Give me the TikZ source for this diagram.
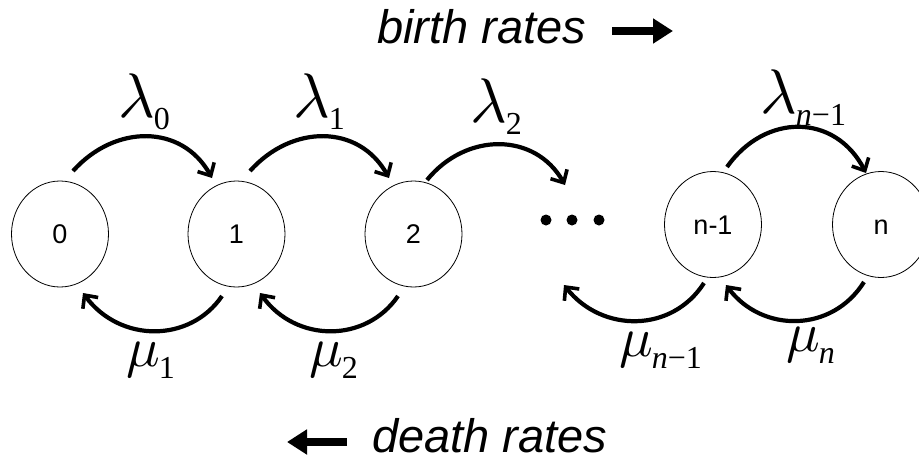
\documentclass[tikz,border=0pt]{standalone}
\usepackage{graphicx}
\usepackage{fontspec}
\setmainfont{Liberation Serif}
\setsansfont{Liberation Sans}
\usetikzlibrary{shapes.geometric,arrows.meta}
\newcommand\mysub[1]{\kern-1pt\raisebox{-12pt}{\fontsize{32}{32}\selectfont #1}}
\newcommand\biglam{\scalebox{6.3}{\fontsize{10}{12}\selectfont$\lambda$}}
\newcommand\bigmu{\scalebox{5.6}{\fontsize{10}{12}\selectfont$\mu$}}
\begin{document}
\begin{tikzpicture}[x=1pt,y=-1pt,
 state/.style={ellipse,draw,line width=0.8pt,minimum width=97pt,minimum height=106pt,inner sep=0pt,text height=19pt,text depth=0pt,font=\sffamily\fontsize{27}{27}\selectfont},
 rate/.style={line width=4.2pt,-{Straight Barb[length=10pt,width=19pt,line width=3.6pt]}},
 lbl/.style={inner sep=0pt,anchor=base west,font=\fontsize{32}{32}\selectfont},
 big/.style={line width=8pt,-{Triangle[length=20pt,width=24pt]}},
 dotnode/.style={circle,fill,inner sep=0pt,minimum size=11pt},
 titlelbl/.style={inner sep=0pt,anchor=base west,font=\sffamily\itshape\fontsize{47}{47}\selectfont}]
\useasboundingbox (0,0) rectangle (919,466);

% states
\node[state] (s0) at (60,234) {0};
\node[state] (s1) at (236.5,234) {1};
\node[state] (s2) at (413.5,234) {2};
\node[state] (sn1) at (713,224.5) {n-1};
\node[state] (sn) at (881,224.5) {n};

% dots
\node[dotnode] (d1) at (546,220) {};
\node[dotnode] (d2) at (572,220) {};
\node[dotnode] (d3) at (599,220) {};

% arrow end points
\coordinate (l0s) at (73,171);  \coordinate (l0e) at (212,178);
\coordinate (l1s) at (250,171); \coordinate (l1e) at (389,178);
\coordinate (l2s) at (427,180); \coordinate (l2e) at (565,185);
\coordinate (lns) at (727,167); \coordinate (lne) at (866,173);
\coordinate (m1s) at (222,296); \coordinate (m1e) at (83,293);
\coordinate (m2s) at (398,296); \coordinate (m2e) at (260,293);
\coordinate (mn1s) at (704,283); \coordinate (mn1e) at (564,285);
\coordinate (mns) at (864,282); \coordinate (mne) at (726,285);

% birth arcs
\draw[rate] (l0s) .. controls (115,124) and (182,124) .. (l0e);
\draw[rate] (l1s) .. controls (292,124) and (359,124) .. (l1e);
\draw[rate] (l2s) .. controls (466,132) and (535,132) .. (l2e);
\draw[rate] (lns) .. controls (765,113) and (835,113) .. (lne);

% death arcs
\draw[rate] (m1s) .. controls (190,343) and (120,343) .. (m1e);
\draw[rate] (m2s) .. controls (366,343) and (296,343) .. (m2e);
\draw[rate] (mn1s) .. controls (672,333) and (602,333) .. (mn1e);
\draw[rate] (mns) .. controls (832,333) and (762,333) .. (mne);

% labels
\node[lbl] (ll0) at (118,117) {\biglam\mysub{0}};
\node[lbl] (ll1) at (293,117) {\biglam\mysub{1}};
\node[lbl] (ll2) at (470,122) {\biglam\mysub{2}};
\node[lbl] (lln) at (760,113) {\biglam\mysub{\textit{n}−1}};
\node[lbl] (lm1) at (126,366) {\bigmu\mysub{1}};
\node[lbl] (lm2) at (309,366) {\bigmu\mysub{2}};
\node[lbl] (lmn1) at (619,356) {\bigmu\mysub{\textit{n}−1}};
\node[lbl] (lmn) at (786,351) {\bigmu\mysub{\textit{n}}};

% titles
\node[titlelbl] (birth) at (377,43) {birth rates};
\node[titlelbl] (death) at (372,452) {death rates};
\coordinate (ba) at (612,31); \coordinate (bb) at (673,31);
\coordinate (da) at (347,442); \coordinate (db) at (287,442);
\draw[big] (ba) -- (bb);
\draw[big] (da) -- (db);
\end{tikzpicture}
\end{document}
